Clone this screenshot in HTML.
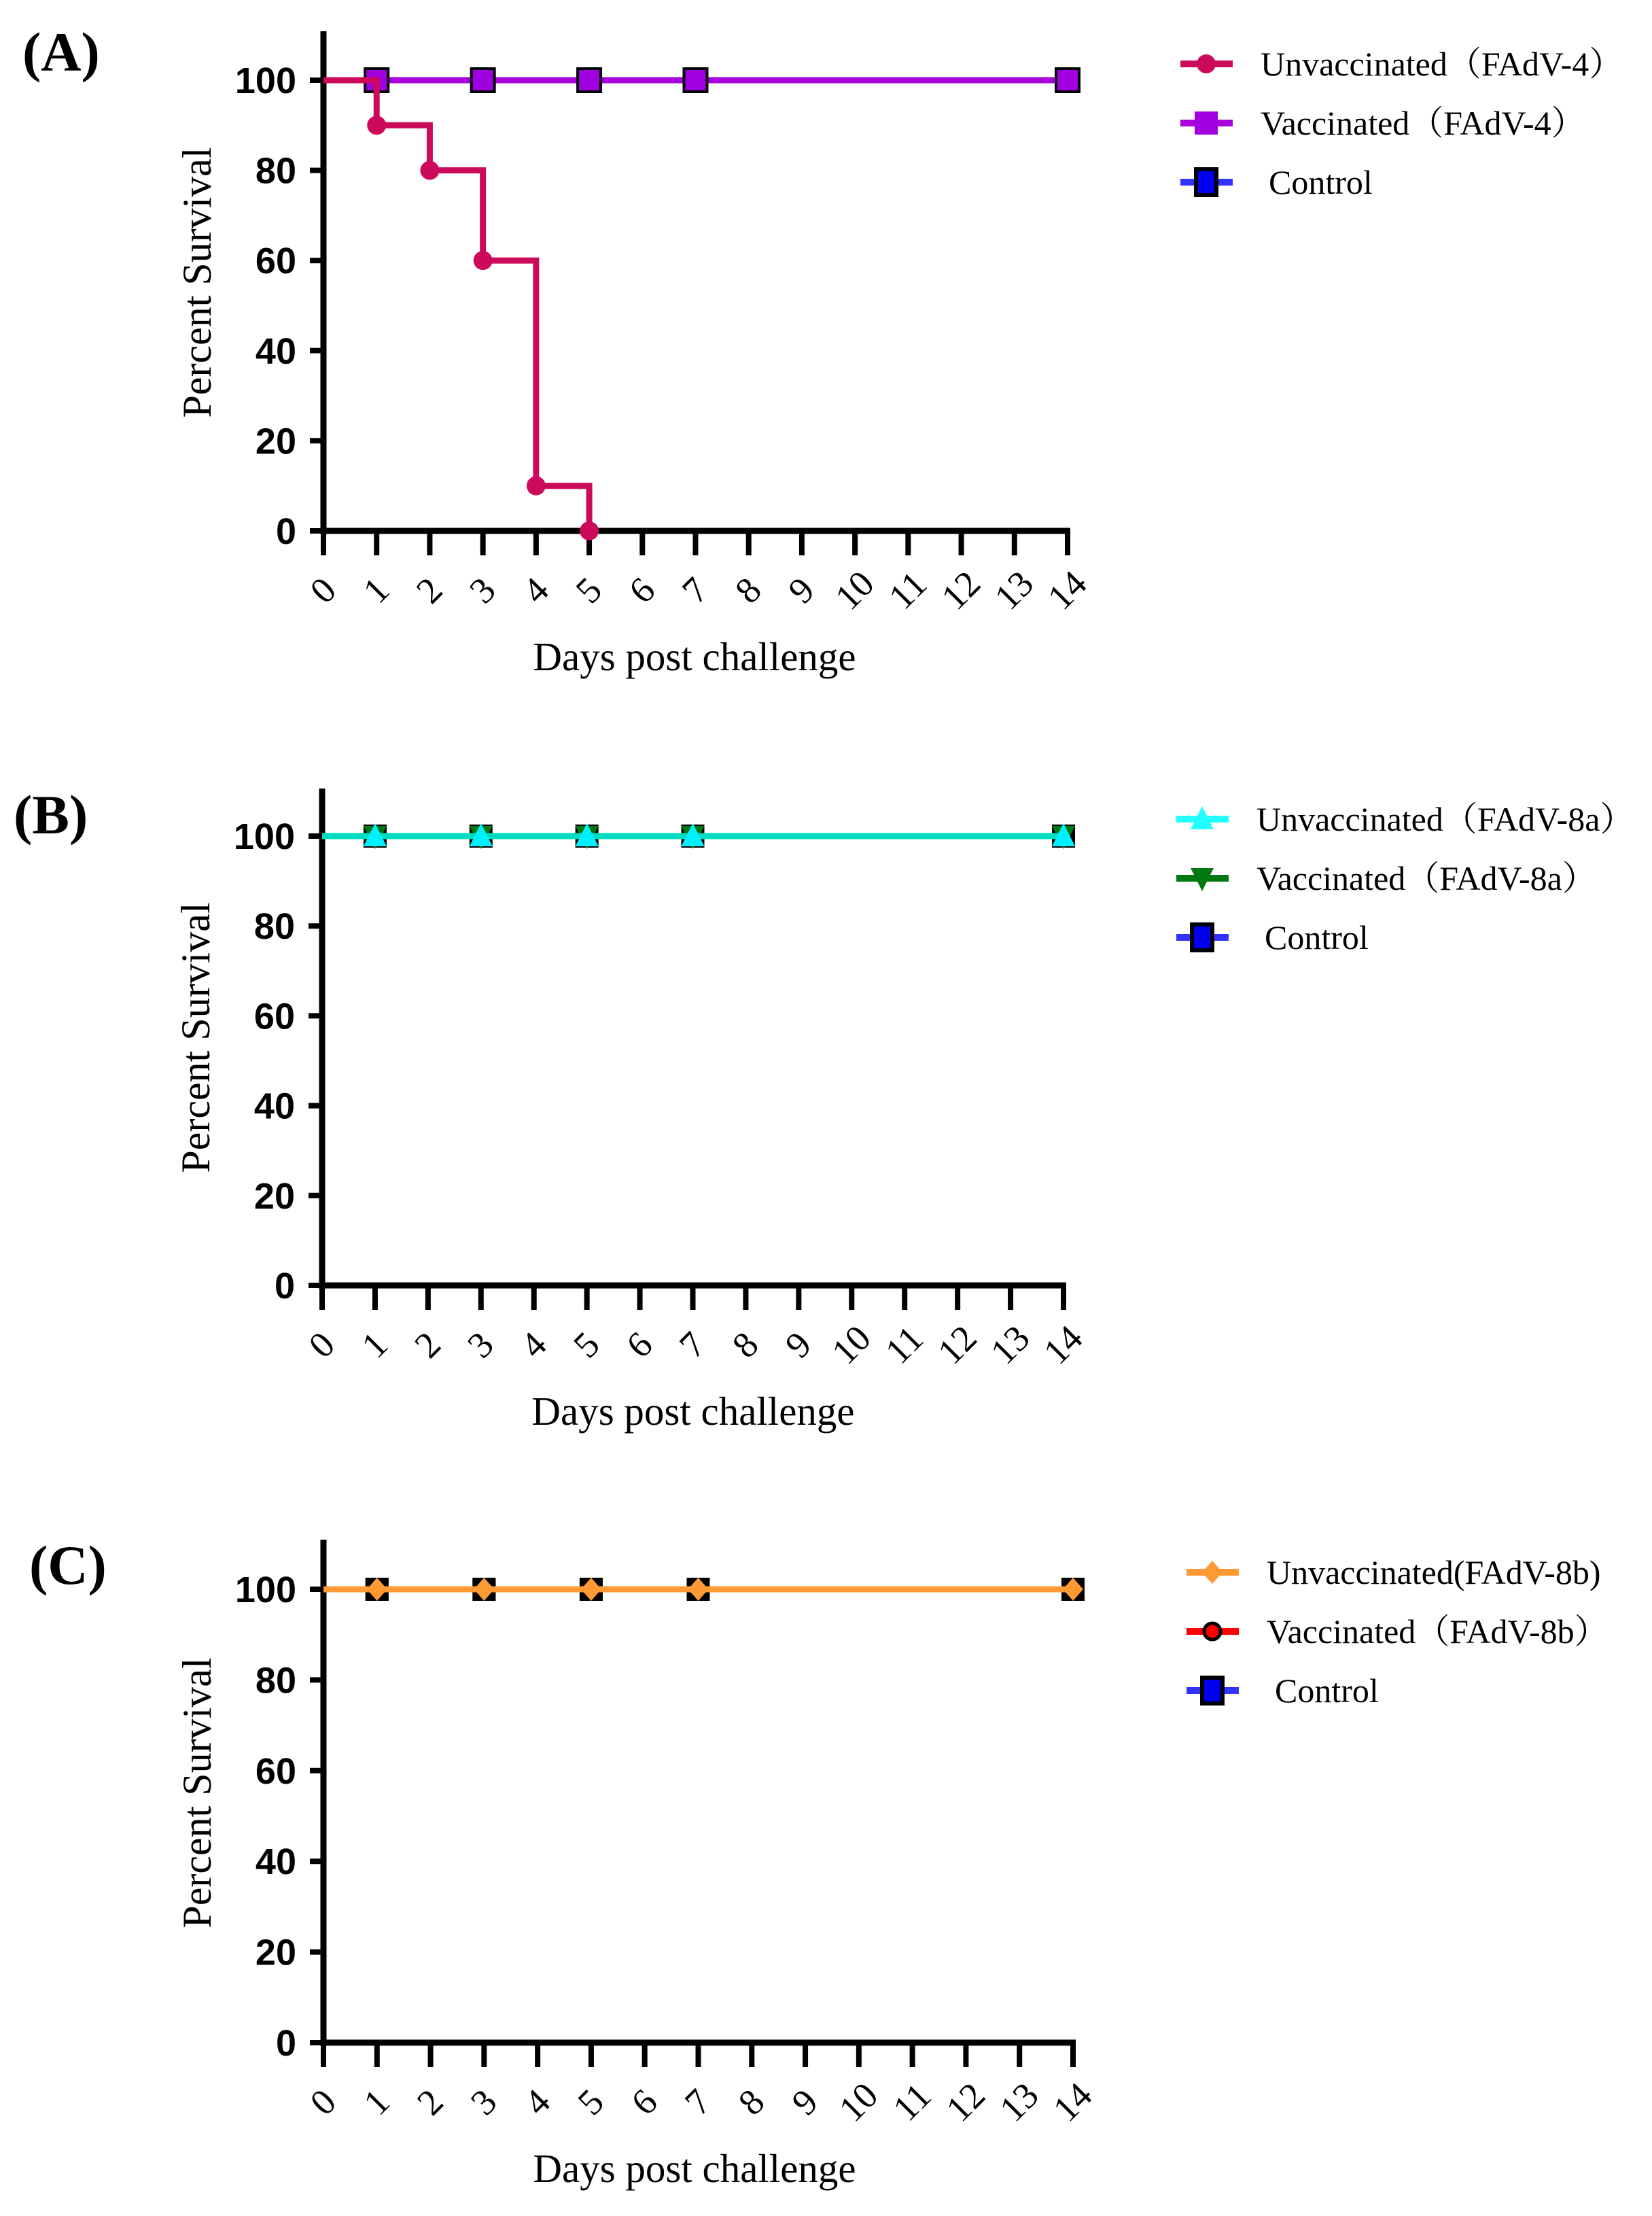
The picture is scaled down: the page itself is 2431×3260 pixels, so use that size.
<!DOCTYPE html>
<html><head><meta charset="utf-8"><style>
html,body{margin:0;padding:0;background:#fff;width:2431px;height:3260px;overflow:hidden}
svg{display:block}
</style></head><body>
<svg id="fig" width="2431" height="3260" xmlns="http://www.w3.org/2000/svg"></svg>
<script>
// ---- data ----
const dayTicks = [0,1,2,3,4,5,6,7,8,9,10,11,12,13,14];
const yTicks = [0,20,40,60,80,100];
const aUnvacDays = [0,1,2,3,4,5];
const aUnvacSurv = [100,90,80,60,10,0];
const aVacDays = [0,1,3,5,7,14];
const aVacSurv = [100,100,100,100,100,100];
const bUnvacDays = [0,1,3,5,7,14];
const bUnvacSurv = [100,100,100,100,100,100];
const bVacDays = [0,1,3,5,7,14];
const bVacSurv = [100,100,100,100,100,100];
const cUnvacDays = [0,1,3,5,7,14];
const cUnvacSurv = [100,100,100,100,100,100];
const cVacDays = [0,1,3,5,7,14];
const cVacSurv = [100,100,100,100,100,100];
const ctrlDays = [0,1,3,5,7,14];
const ctrlSurv = [100,100,100,100,100,100];

const NS = "http://www.w3.org/2000/svg";
const svg = document.getElementById('fig');
function el(tag, attrs, parent){
  const e = document.createElementNS(NS, tag);
  for (const k in attrs) e.setAttribute(k, attrs[k]);
  (parent||svg).appendChild(e); return e;
}

function panel(p){
  const g = el('g', {});
  
  
  const xs = d => p.x0 + (p.x14 - p.x0) * d / 14;
  const ys = v => p.y0 + (p.y100 - p.y0) * v / 100;

  const lab = el('text', {x:p.lx, y:p.ly, 'font-family':'Liberation Serif, serif', 'font-size':82, 'font-weight':'bold'}, g);
  lab.textContent = '('+p.id.toUpperCase()+')';
  
  

  const ya = el('line', {x1:p.x0, y1:p.top, x2:p.x0, y2:p.y0+5, stroke:'#000', 'stroke-width':9}, g);
  
  
  const xa = el('line', {x1:p.x0-4, y1:p.y0, x2:p.x14+4, y2:p.y0, stroke:'#000', 'stroke-width':9}, g);
  
  

  yTicks.forEach(v=>{
    el('line', {x1:p.x0-20, y1:ys(v), x2:p.x0, y2:ys(v), stroke:'#000', 'stroke-width':8}, g);
    const t = el('text', {x:p.x0-40, y:ys(v)+19, 'text-anchor':'end', 'font-family':'Liberation Sans Narrow, Liberation Sans, sans-serif', 'font-size':54, 'font-weight':'bold'}, g);
    t.textContent = v;
    
    
  });
  dayTicks.forEach(d=>{
    el('line', {x1:xs(d), y1:p.y0, x2:xs(d), y2:p.y0+36, stroke:'#000', 'stroke-width':8}, g);
    const cx = xs(d), cy = p.y0+88;
    const t = el('text', {x:cx, y:cy+17, 'text-anchor':'middle', 'font-family':'Liberation Serif, serif', 'font-size':54, transform:'rotate(-45 '+cx+' '+cy+')'}, g);
    t.textContent = d;
    
    
  });
  const xt = el('text', {x:p.x0+546, y:p.y0+205, 'text-anchor':'middle', 'font-family':'Liberation Serif, serif', 'font-size':59}, g);
  xt.textContent = 'Days post challenge';
  
  
  const yc = (p.y0+p.y100)/2 - 34;
  const yx = p.x0-186;
  const yt = el('text', {x:yx, y:yc+20, 'text-anchor':'middle', 'font-family':'Liberation Serif, serif', 'font-size':60, transform:'rotate(-90 '+yx+' '+yc+')'}, g);
  yt.textContent = 'Percent Survival';
  
  

  function stepPath(days, vals){
    let d = 'M'+xs(days[0])+' '+ys(vals[0]);
    for (let i=1;i<days.length;i++){ d += ' H'+xs(days[i])+' V'+ys(vals[i]); }
    return d;
  }
  p.series.forEach(s=>{
    const sg = el('g', {}, g);
    
    
    const path = stepPath(s.days, s.vals) + (s.extend ? ' H'+xs(14) : '');
    el('path', {d:path, fill:'none', stroke:s.color, 'stroke-width':9}, sg);
    s.days.forEach((d,i)=>{
      if (d===0) return;
      drawMarker(sg, s.marker, xs(d), ys(s.vals[i]), s.mfill);
    });
  });

  p.legend.forEach((L,i)=>{
    const ly = p.legY + i*87;
    const lg = el('g', {}, g);
    
    
    el('line', {x1:p.legX, y1:ly, x2:p.legX+77, y2:ly, stroke:L.color, 'stroke-width':10}, lg);
    drawMarker(lg, L.marker, p.legX+38, ly, L.mfill, true);
    const t = el('text', {x:p.legX+118+(L.pad||0), y:ly+17, 'font-family':'Liberation Serif, "Noto Serif CJK SC", serif', 'font-size':50}, lg);
    t.textContent = L.text;
  });
}

function drawMarker(g, type, x, y, fill, legend){
  if (type==='circle') el('circle', {cx:x, cy:y, r:14, fill:fill}, g);
  else if (type==='square') el('rect', {x:x-17, y:y-17, width:34, height:34, fill:fill, stroke:'#000', 'stroke-width':legend?0:4}, g);
  else if (type==='ctrl') el('rect', {x:x-15, y:y-19, width:30, height:38, fill:'#0000ee', stroke:'#000', 'stroke-width':6}, g);
  else if (type==='ctrlbox') el('rect', {x:x-17, y:y-17, width:34, height:34, fill:'#000'}, g);
  else if (type==='tri') el('polygon', {points:(x)+','+(y-19)+' '+(x-17)+','+(y+15)+' '+(x+17)+','+(y+15), fill:fill}, g);
  else if (type==='itri') el('polygon', {points:(x)+','+(y+19)+' '+(x-17)+','+(y-15)+' '+(x+17)+','+(y-15), fill:fill}, g);
  else if (type==='diamond') el('polygon', {points:(x)+','+(y-17)+' '+(x+15)+','+y+' '+(x)+','+(y+17)+' '+(x-15)+','+y, fill:fill}, g);
  else if (type==='ring') el('circle', {cx:x, cy:y, r:12, fill:'#ff0000', stroke:'#000', 'stroke-width':5}, g);
}

panel({id:'a', lx:33, ly:104, x0:476, x14:1571, y0:781, y100:118, top:46,
  legX:1737, legY:94,
  series:[
    {name:'control-series', days:ctrlDays, vals:ctrlSurv, color:'#3333ff', marker:'ctrlbox', mfill:'#000', extend:true},
    {name:'vaccinated-fadv4-series', days:aVacDays, vals:aVacSurv, color:'#aa00dd', marker:'square', mfill:'#a000e0', extend:true},
    {name:'unvaccinated-fadv4-series', days:aUnvacDays, vals:aUnvacSurv, color:'#cc0a5c', marker:'circle', mfill:'#cc0a5c'}
  ],
  legend:[
    {text:'Unvaccinated（FAdV-4）', color:'#cc0a5c', marker:'circle', mfill:'#cc0a5c'},
    {text:'Vaccinated（FAdV-4）', color:'#aa00dd', marker:'square', mfill:'#a000e0'},
    {text:'Control', color:'#3333ff', marker:'ctrl', mfill:'#0000ee', pad:12}
  ]});

panel({id:'b', lx:20, ly:1226, x0:474, x14:1565, y0:1891, y100:1230, top:1160,
  legX:1731, legY:1205,
  series:[
    {name:'control-series', days:ctrlDays, vals:ctrlSurv, color:'#3333ff', marker:'ctrlbox', mfill:'#000', extend:true},
    {name:'vaccinated-fadv8a-series', days:bVacDays, vals:bVacSurv, color:'#007a10', marker:'itri', mfill:'#007a10', extend:true},
    {name:'unvaccinated-fadv8a-series', days:bUnvacDays, vals:bUnvacSurv, color:'#00dcc0', marker:'tri', mfill:'#00f0ff', extend:true}
  ],
  legend:[
    {text:'Unvaccinated（FAdV-8a）', color:'#22ffff', marker:'tri', mfill:'#22ffff'},
    {text:'Vaccinated（FAdV-8a）', color:'#007a10', marker:'itri', mfill:'#007a10'},
    {text:'Control', color:'#3333ff', marker:'ctrl', mfill:'#0000ee', pad:12}
  ]});

panel({id:'c', lx:43, ly:2330, x0:476, x14:1579, y0:3005, y100:2338, top:2265,
  legX:1746, legY:2313,
  series:[
    {name:'control-series', days:ctrlDays, vals:ctrlSurv, color:'#3333ff', marker:'ctrlbox', mfill:'#000', extend:true},
    {name:'vaccinated-fadv8b-series', days:cVacDays, vals:cVacSurv, color:'#ff0000', marker:'ctrlbox', mfill:'#000', extend:true},
    {name:'unvaccinated-fadv8b-series', days:cUnvacDays, vals:cUnvacSurv, color:'#ff9933', marker:'diamond', mfill:'#ff9933', extend:true}
  ],
  legend:[
    {text:'Unvaccinated(FAdV-8b)', color:'#ff9933', marker:'diamond', mfill:'#ff9933'},
    {text:'Vaccinated（FAdV-8b）', color:'#ff0000', marker:'ring', mfill:'#ff0000'},
    {text:'Control', color:'#3333ff', marker:'ctrl', mfill:'#0000ee', pad:12}
  ]});
</script>
</body></html>
